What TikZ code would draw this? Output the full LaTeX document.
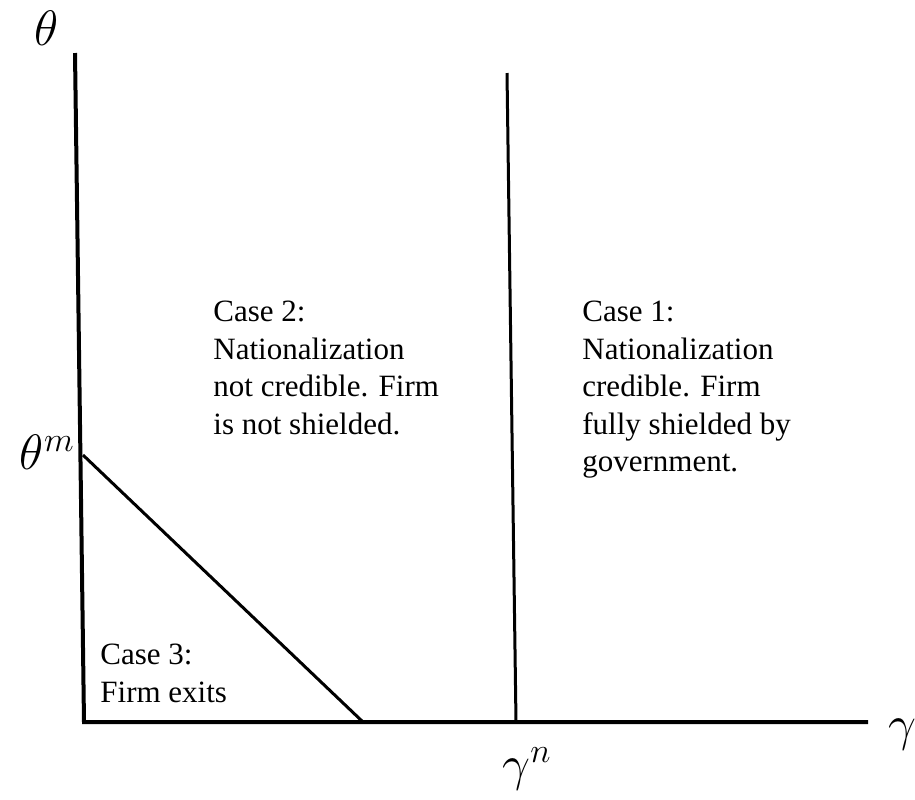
\documentclass[tikz,border=0pt]{standalone}
\usepackage{fontspec}
\setmainfont{Liberation Serif}
\newfontfamily\casefont{Liberation Serif}
\usepackage{amsmath}
\usepackage{tikz}

\tikzset{
  axisline/.style={black, line width=2pt},
  bound/.style={black, line width=1.5pt},
  casetext/.style={anchor=north west, inner sep=0pt, align=left,
    font=\casefont\fontsize{15.5}{18.75}\selectfont},
  axlabel/.style={inner sep=0pt, font=\fontsize{27}{30}\selectfont}
}

\begin{document}
\begin{tikzpicture}[x=0.5pt, y=-0.5pt]
\useasboundingbox (0,0) rectangle (915,799);

	\coordinate (ytop) at (75,53);
	\coordinate (origin) at (84,722);
	\coordinate (xend) at (868,722);
	\coordinate (thm) at (83,455);
	\coordinate (cut) at (363,722);
	\coordinate (gtop) at (507,73);
	\coordinate (gbot) at (516,722);

\draw[axisline] (ytop) -- (origin) -- (xend);
\draw[bound] (thm) -- (cut);
\draw[bound] (gtop) -- (gbot);

	\node[axlabel] (theta) at (47,28) {$\theta$};
	\node[axlabel, anchor=east] (thetam) at (75,452) {$\theta^{m}$};
	\node[axlabel] (gamma) at (902,735) {$\gamma$};
	\node[axlabel] (gamman) at (527,769) {$\gamma^{n}$};

	\node[casetext] (case2) at (213,301) {Case 2:\\Nationalization\\not credible. Firm\\is not shielded.};
	\node[casetext] (case1) at (582,301) {Case 1:\\Nationalization\\credible. Firm\\fully shielded by\\government.};
	\node[casetext] (case3) at (100,644) {Case 3:\\Firm exits};
\end{tikzpicture}
\end{document}
